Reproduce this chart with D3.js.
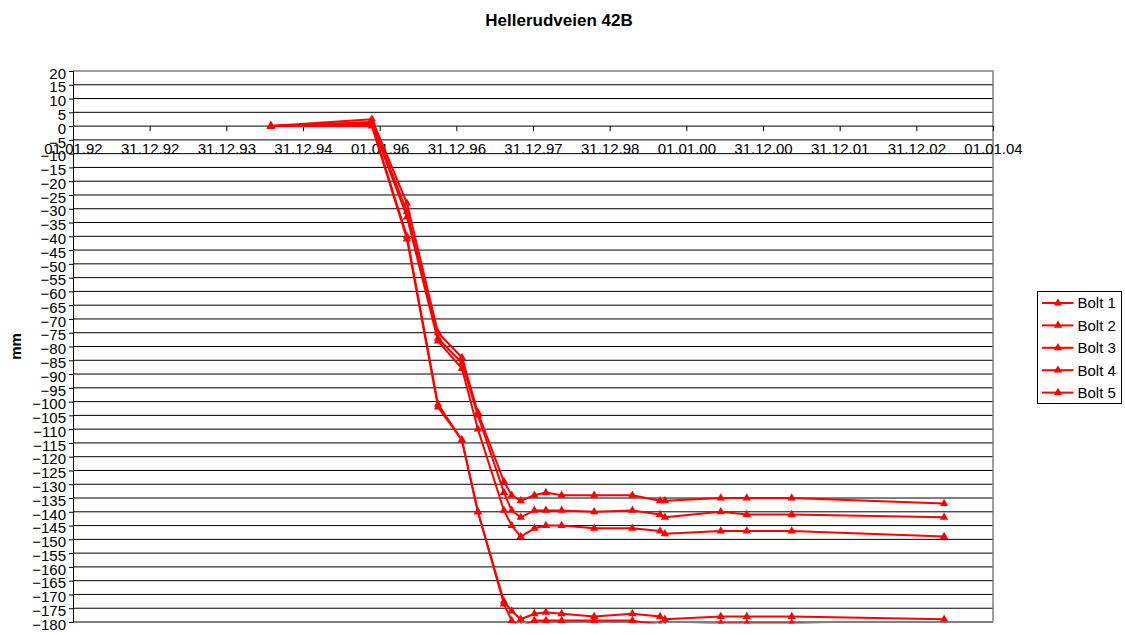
<!DOCTYPE html>
<html>
<head>
<meta charset="utf-8">
<script src="https://cdn.jsdelivr.net/npm/d3@7"></script>
<style>
  body { margin: 0; background: #fff; }
  svg text { font-family: Arial, "Liberation Sans", sans-serif; fill: #000; }
</style>
</head>
<body>
<svg id="chart" width="1125" height="635"></svg>
<script>
// data
const dates = ['1994-08-01','1995-11-25','1996-05-10','1996-10-05','1997-01-27','1997-04-13',
  '1997-08-15','1997-09-21','1997-11-03','1998-01-07','1998-03-03','1998-05-17','1998-10-19',
  '1999-04-19','1999-08-29','1999-09-21','2000-06-13','2000-10-15','2001-05-17','2003-05-13'];
const bolt1 = [0, 2.5, -28, -75, -84, -104, -129, -134, -136, -134, -133, -134, -134, -134, -136, -136, -135, -135, -135, -137];
const bolt2 = [0, 1.5, -31, -77, -86, -105, -133, -139.5, -142, -139.5, -139.5, -139.5, -140, -139.5, -141, -142, -140, -141, -141, -142];
const bolt3 = [0, 1, -33, -78, -88, -110, -139.5, -145, -149, -146, -145, -145, -146, -146, -147, -148, -147, -147, -147, -149];
const bolt4 = [0, 0.5, -40, -101, -114, -140, -172.5, -176, -179, -177, -176.5, -177, -178, -177, -178, -179, -178, -178, -178, -179];
const bolt5 = [0, 0, -41, -102, -114, -140, -173.5, -179.5, -181.5, -179.5, -179.5, -179.5, -179.5, -179.5, -181, -181.5, -180.5, -180.5, -180.5, -183];
const seriesNames = ['Bolt 1', 'Bolt 2', 'Bolt 3', 'Bolt 4', 'Bolt 5'];
const seriesValues = [bolt1, bolt2, bolt3, bolt4, bolt5];

const xTickLabels = ['01.01.92','31.12.92','31.12.93','31.12.94','01.01.96','31.12.96',
  '31.12.97','31.12.98','01.01.00','31.12.00','31.12.01','31.12.02','01.01.04'];
const xStart = '1992-01-01', xEnd = '2004-01-01';
const yMin = -180, yMax = 20, yStep = 5;

const title = 'Hellerudveien 42B';
const yTitle = 'mm';

// layout
const svg = d3.select('#chart');
const plot = { left: 73, right: 993, top: 71, bottom: 622 };
const RED = '#ff0000';
const DAY = 864e5;

const parse = d3.utcParse('%Y-%m-%d');
const x = d3.scaleUtc().domain([parse(xStart), parse(xEnd)]).range([plot.left, plot.right]);
const y = d3.scaleLinear().domain([yMin, yMax]).range([plot.bottom, plot.top]);

const xTicks = xTickLabels.map((_, i) => new Date(parse(xStart).getTime() + i * 365.25 * DAY));
const yTicks = d3.range(yMax, yMin - 1, -yStep);

// gridlines
svg.append('g').selectAll('line')
  .data(yTicks.filter(v => v !== 0 && v !== yMax))
  .enter().append('line')
    .attr('x1', plot.left).attr('x2', plot.right)
    .attr('y1', d => y(d)).attr('y2', d => y(d))
    .attr('stroke', '#000').attr('stroke-width', 1);

// plot border (top/right grey)
svg.append('path')
  .attr('d', `M${plot.left},${plot.top}H${plot.right}V${plot.bottom}`)
  .attr('fill', 'none').attr('stroke', '#808080').attr('stroke-width', 1.5);

// y axis
const yAxis = svg.append('g')
  .attr('transform', `translate(${plot.left},0)`)
  .call(d3.axisLeft(y).tickValues(yTicks).tickSize(4).tickPadding(3).tickFormat(d3.format('d')));
yAxis.select('.domain').attr('stroke', '#000');
yAxis.selectAll('text').attr('dy', '0.48em').style('font-size', '15px').style('font-family', 'Arial, "Liberation Sans", sans-serif');

// x axis at y = 0
const xAxis = svg.append('g')
  .attr('transform', `translate(0,${y(0)})`)
  .call(d3.axisBottom(x).tickValues(xTicks).tickSize(5).tickPadding(12).tickFormat((d, i) => xTickLabels[i]));
xAxis.select('.domain').attr('stroke', '#000').attr('d', `M${plot.left},0H${plot.right}`);
xAxis.selectAll('text').style('font-size', '15px').style('font-family', 'Arial, "Liberation Sans", sans-serif');

// series
svg.append('clipPath').attr('id', 'clip')
  .append('rect')
    .attr('x', plot.left).attr('y', plot.top - 4)
    .attr('width', plot.right - plot.left + 4).attr('height', plot.bottom - plot.top + 5.5);

const series = seriesNames.map((name, i) => ({
  name,
  points: dates.map((d, j) => ({ date: parse(d), value: seriesValues[i][j] }))
}));

const line = d3.line().x(d => x(d.date)).y(d => y(d.value));
const tri = d3.symbol().type(d3.symbolTriangle).size(30);

const gSeries = svg.append('g').attr('clip-path', 'url(#clip)');
series.forEach(s => {
  const g = gSeries.append('g');
  g.append('path')
    .datum(s.points)
    .attr('d', line)
    .attr('fill', 'none').attr('stroke', RED).attr('stroke-width', 2)
    .attr('stroke-linejoin', 'round');
  g.selectAll('path.mark')
    .data(s.points)
    .enter().append('path')
      .attr('class', 'mark')
      .attr('d', tri)
      .attr('transform', d => `translate(${x(d.date)},${y(d.value)})`)
      .attr('fill', RED);
});

// titles
svg.append('text')
  .attr('x', 559).attr('y', 26)
  .attr('text-anchor', 'middle')
  .style('font-size', '17px').style('font-weight', 'bold')
  .text(title);

svg.append('text')
  .attr('transform', `translate(21,${(plot.top + plot.bottom) / 2}) rotate(-90)`)
  .attr('text-anchor', 'middle')
  .style('font-size', '15px').style('font-weight', 'bold')
  .text(yTitle);

// legend
const legend = svg.append('g').attr('transform', 'translate(1037.5,291.5)');
legend.append('rect')
  .attr('width', 84).attr('height', 112)
  .attr('fill', '#fff').attr('stroke', '#000').attr('stroke-width', 1);
const item = legend.selectAll('g.item')
  .data(seriesNames)
  .enter().append('g')
    .attr('class', 'item')
    .attr('transform', (d, i) => `translate(0,${11.5 + i * 22.4})`);
item.append('line')
  .attr('x1', 4.5).attr('x2', 36)
  .attr('stroke', RED).attr('stroke-width', 2);
item.append('path')
  .attr('d', tri)
  .attr('transform', 'translate(20.5,0)')
  .attr('fill', RED);
item.append('text')
  .attr('x', 40).attr('dy', '0.36em')
  .style('font-size', '15px')
  .text(d => d);
</script>
</body>
</html>
